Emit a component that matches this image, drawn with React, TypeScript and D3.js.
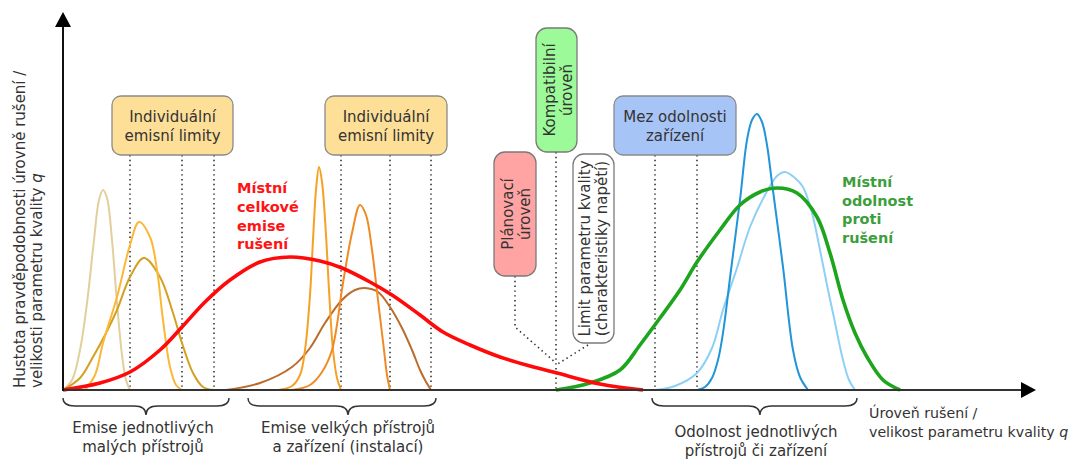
import React from "react";
import * as d3 from "d3";

// ---- data (q = disturbance level, d = probability density, arbitrary units) ----
const Q_TAN = [0, 0.9, 1.7, 2.4, 3.1, 3.6, 4.0, 4.4, 4.9, 5.4, 5.9, 6.3, 6.7];
const D_TAN = [0, 1.0, 4.0, 8.7, 15.0, 19.0, 20.0, 19.2, 15.0, 8.7, 3.5, 1.0, 0];

const Q_LORANGE = [2.2, 3.2, 4.0, 5.4, 6.7, 7.6, 8.7, 9.4, 10.0, 10.7, 11.3, 11.9];
const D_LORANGE = [0, 1.5, 4.7, 9.3, 14.5, 16.8, 15.3, 12.0, 7.0, 2.3, 0.5, 0];

const Q_GOLD = [0, 1.7, 3.0, 4.2, 5.4, 6.7, 8.1, 9.7, 11.0, 11.9, 13.0, 14.0, 15.1];
const D_GOLD = [0, 1.2, 3.3, 5.5, 8.0, 11.3, 13.2, 11.3, 7.7, 4.7, 1.7, 0.3, 0];

const Q_NARROW = [21.5, 22.9, 23.7, 24.2, 24.7, 25.0, 25.3, 25.6, 25.9, 26.3, 26.6, 27.0, 27.4, 27.8];
const D_NARROW = [0, 0.4, 1.5, 4.0, 9.5, 15.0, 20.0, 22.3, 20.8, 15.5, 10.0, 4.0, 1.2, 0];

const Q_ORANGE2 = [22.9, 24.7, 25.9, 26.9, 28.0, 28.9, 29.7, 30.3, 30.9, 31.5, 32.1, 32.4, 32.7];
const D_ORANGE2 = [0, 0.5, 1.8, 4.0, 10.7, 15.7, 18.5, 17.5, 14.0, 9.0, 4.0, 1.5, 0];

const Q_BROWN = [16.3, 19.7, 22.9, 24.7, 26.2, 27.9, 29.2, 30.2, 31.5, 32.7, 33.9, 34.9, 35.7, 36.2, 36.8];
const D_BROWN = [0, 0.7, 2.3, 4.2, 6.7, 9.0, 10.0, 10.2, 9.8, 8.3, 6.2, 4.0, 2.0, 1.0, 0];

const Q_EMISSION = [0, 3.7, 6.7, 9.7, 11.9, 14.2, 16.7, 19.7, 22.7, 25.7, 27.9, 30.7, 32.9, 35.7, 38.0, 40.7, 43.7, 46.7, 49.4, 53.7, 58.0];
const D_EMISSION = [0, 0.7, 1.8, 4.0, 6.3, 8.8, 11.0, 12.8, 13.3, 12.9, 12.2, 10.8, 9.5, 7.5, 5.8, 4.5, 3.3, 2.4, 1.7, 0.6, 0];

const Q_IMMUNITY = [49.3, 52.7, 55.7, 57.7, 59.7, 61.7, 63.4, 65.7, 67.7, 69.7, 71.4, 73.4, 75.4, 76.7, 78.0, 79.2, 80.4, 82.0, 83.7];
const D_IMMUNITY = [0, 0.7, 2.0, 4.5, 7.2, 10.0, 12.8, 16.0, 18.5, 19.8, 20.2, 19.7, 17.3, 13.7, 9.0, 5.7, 3.3, 1.0, 0];

const Q_DBLUE = [63.4, 64.2, 64.9, 65.5, 66.0, 66.8, 67.7, 68.4, 68.9, 69.4, 69.9, 70.4, 70.9, 72.0, 73.0, 73.7, 74.5];
const D_DBLUE = [0, 0.3, 1.2, 3.0, 5.7, 12.0, 19.0, 25.0, 27.0, 27.6, 26.8, 24.5, 20.7, 12.3, 4.0, 1.3, 0];

const Q_LBLUE = [59.2, 61.2, 63.4, 64.9, 66.0, 67.4, 68.7, 70.2, 71.4, 72.2, 73.2, 74.0, 74.9, 75.7, 76.4, 77.0, 78.0, 78.6, 79.2];
const D_LBLUE = [0, 0.4, 1.7, 4.2, 8.0, 12.2, 16.3, 19.5, 21.4, 21.8, 21.2, 20.3, 17.7, 14.0, 10.5, 7.7, 3.0, 1.0, 0];

const LIMITS_SMALL = [6.7, 11.9, 15.1];
const LIMITS_LARGE = [27.8, 32.7, 36.8];
const COMPAT_LEVEL = 49.3;
const PLANNING_LEVEL = 45.2;
const QUALITY_LIMIT_ANCHOR = 52.5;
const IMMUNITY_LIMITS = [59.2, 63.4];

const Y_TITLE = ["Hustota pravděpodobnosti úrovně rušení /", "velikosti parametru kvality "];
const X_TITLE = ["Úroveň rušení /", "velikost parametru kvality "];
const EMISSION_LABEL = ["Místní", "celkové", "emise", "rušení"];
const IMMUNITY_LABEL = ["Místní", "odolnost", "proti", "rušení"];

const W = 1078;
const H = 460;
const FONT = "'DejaVu Sans', Verdana, sans-serif";
const TXT = "#333";
const FS = 15;

export default function App() {
  const x = d3.scaleLinear().domain([0, 96.7]).range([63, 1030]);
  const y = d3.scaleLinear().domain([0, 37.7]).range([390, 13]);
  const line = d3
    .line<[number, number]>()
    .x((p) => x(p[0]))
    .y((p) => Math.min(y(p[1]), y(0)))
    .curve(d3.curveCatmullRom.alpha(0.5));
  const path = (qs: number[], ds: number[]) => line(qs.map((q, i) => [q, ds[i]] as [number, number])) || "";

  const curves = [
    { q: Q_TAN, d: D_TAN, c: "#e3cf9d", w: 2 },
    { q: Q_GOLD, d: D_GOLD, c: "#d3a020", w: 2 },
    { q: Q_LORANGE, d: D_LORANGE, c: "#fbb838", w: 2 },
    { q: Q_BROWN, d: D_BROWN, c: "#bb6c2c", w: 2 },
    { q: Q_NARROW, d: D_NARROW, c: "#f6a125", w: 2 },
    { q: Q_ORANGE2, d: D_ORANGE2, c: "#f08a24", w: 2 },
    { q: Q_LBLUE, d: D_LBLUE, c: "#8dd0f6", w: 2 },
    { q: Q_DBLUE, d: D_DBLUE, c: "#2294d8", w: 2 },
  ];

  const y0 = y(0);
  const boxBottom = 155;
  const dotted = { stroke: "#333", strokeWidth: 1.6, strokeDasharray: "1.4 3.4", fill: "none" };

  const brace = (q1: number, q2: number, qm: number) => {
    const x1 = x(q1), x2 = x(q2), xm = x(qm);
    const t = 398, m = 406, b = 415;
    return `M${x1},${t} Q${x1},${m} ${x1 + 12},${m} L${xm - 12},${m} Q${xm},${m} ${xm},${b} Q${xm},${m} ${xm + 12},${m} L${x2 - 12},${m} Q${x2},${m} ${x2},${t}`;
  };

  const hBox = (x0: number, x1: number, fill: string, lines: string[]) => (
    <g>
      <rect x={x0} y={96} width={x1 - x0} height={59} rx={9} fill={fill} stroke="#8a8a8a" strokeWidth={1.3} />
      {lines.map((t, i) => (
        <text key={i} x={(x0 + x1) / 2} y={122 + i * 19} textAnchor="middle" fontSize={FS} fill={TXT} fontFamily={FONT}>
          {t}
        </text>
      ))}
    </g>
  );

  const vBox = (x0: number, x1: number, yt: number, yb: number, fill: string, lines: string[], dx: number) => {
    const cx = (x0 + x1) / 2;
    const cy = (yt + yb) / 2;
    return (
      <g>
        <rect x={x0} y={yt} width={x1 - x0} height={yb - yt} rx={11} fill={fill} stroke="#7a7a7a" strokeWidth={1.3} />
        {lines.map((t, i) => (
          <text
            key={i}
            transform={`translate(${cx + dx + i * 17},${cy}) rotate(-90)`}
            textAnchor="middle"
            fontSize={FS}
            fill={TXT}
            fontFamily={FONT}
          >
            {t}
          </text>
        ))}
      </g>
    );
  };

  return (
    <svg width={W} height={H} style={{ position: "absolute", left: 0, top: 0, background: "#fff" }} fontFamily={FONT}>
      <rect width={W} height={H} fill="#fff" />

      {/* dotted limit lines */}
      {[...LIMITS_SMALL, ...LIMITS_LARGE, ...IMMUNITY_LIMITS].map((q, i) => (
        <line key={i} x1={x(q)} x2={x(q)} y1={boxBottom} y2={y0} {...dotted} />
      ))}
      <line x1={x(COMPAT_LEVEL)} x2={x(COMPAT_LEVEL)} y1={152} y2={y0} {...dotted} />
      <polyline points={`${x(PLANNING_LEVEL)},276 ${x(PLANNING_LEVEL)},327 ${x(COMPAT_LEVEL)},363`} {...dotted} />
      <line x1={x(QUALITY_LIMIT_ANCHOR)} y1={345} x2={x(COMPAT_LEVEL)} y2={365} {...dotted} />

      {/* thin device curves */}
      {curves.map((c, i) => (
        <path key={i} d={path(c.q, c.d)} fill="none" stroke={c.c} strokeWidth={c.w} />
      ))}

      {/* aggregate curves */}
      <path d={path(Q_IMMUNITY, D_IMMUNITY)} fill="none" stroke="#1ea51e" strokeWidth={3.6} />
      <path d={path(Q_EMISSION, D_EMISSION)} fill="none" stroke="#ff0a0a" strokeWidth={3.6} />

      {/* axes */}
      <line x1={x(0)} y1={y0} x2={1022} y2={y0} stroke="#333" strokeWidth={2} />
      <path d={`M1036,${y0} L1021,${y0 - 8} L1021,${y0 + 8} Z`} fill="#000" />
      <line x1={x(0)} y1={y0 + 1} x2={x(0)} y2={26} stroke="#111" strokeWidth={2} />
      <path d={`M${x(0)},12 L${x(0) - 8},27 L${x(0) + 8},27 Z`} fill="#000" />

      {/* boxes */}
      {hBox(112, 233, "#fedf98", ["Individuální", "emisní limity"])}
      {hBox(325, 447, "#fedf98", ["Individuální", "emisní limity"])}
      {hBox(614, 736, "#a7c4f7", ["Mez odolnosti", "zařízení"])}
      {vBox(536, 577, 28, 152, "#9cfb98", ["Kompatibilní", "úroveň"], -1.5)}
      {vBox(494, 536, 152, 276, "#ffa3a3", ["Plánovací", "úroveň"], -2)}
      {vBox(573, 614, 154, 343, "#ffffff", ["Limit parametru kvality", "(charakteristiky napětí)"], -3.5)}

      {/* curve labels */}
      {EMISSION_LABEL.map((t, i) => (
        <text key={i} x={237} y={193 + i * 18.8} fontSize={14.5} fontWeight="bold" fill="#ff1414">
          {t}
        </text>
      ))}
      {IMMUNITY_LABEL.map((t, i) => (
        <text key={i} x={842} y={187 + i * 18.7} fontSize={14.5} fontWeight="bold" fill="#3c9e3c">
          {t}
        </text>
      ))}

      {/* braces */}
      <path d={brace(0, 16.6, 8.3)} fill="none" stroke="#333" strokeWidth={1.4} />
      <path d={brace(18.5, 37.3, 28.5)} fill="none" stroke="#333" strokeWidth={1.4} />
      <path d={brace(58.9, 79.4, 69.7)} fill="none" stroke="#333" strokeWidth={1.4} />

      <g fontSize={FS} fill={TXT} textAnchor="middle">
        <text x={143} y={433}>Emise jednotlivých</text>
        <text x={143} y={452}>malých přístrojů</text>
        <text x={348} y={433}>Emise velkých přístrojů</text>
        <text x={348} y={452}>a zařízení (instalací)</text>
        <text x={756} y={437}>Odolnost jednotlivých</text>
        <text x={756} y={456}>přístrojů či zařízení</text>
      </g>
      <g fontSize={14.2} fill={TXT}>
        <text x={869} y={418}>{X_TITLE[0]}</text>
        <text x={869} y={437}>
          {X_TITLE[1]}
          <tspan fontStyle="italic">q</tspan>
        </text>
      </g>
      <g fontSize={FS} fill={TXT}>
        <text transform="translate(25,388) rotate(-90)">{Y_TITLE[0]}</text>
        <text transform="translate(42,388) rotate(-90)">
          {Y_TITLE[1]}
          <tspan fontStyle="italic">q</tspan>
        </text>
      </g>
    </svg>
  );
}
